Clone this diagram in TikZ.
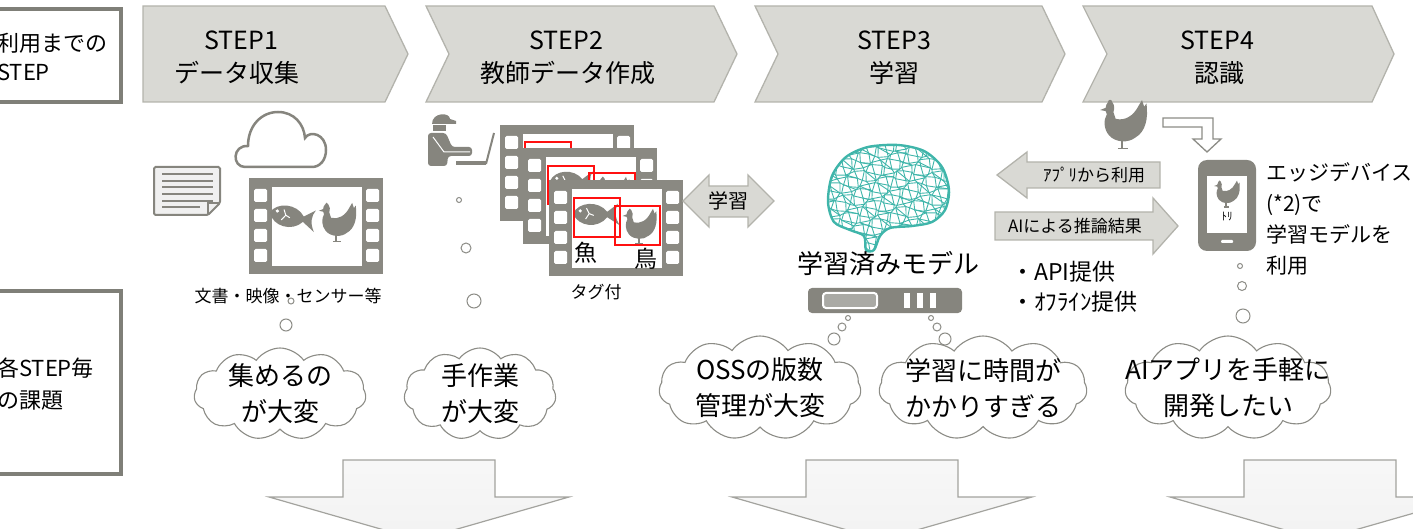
\documentclass[tikz,border=0pt]{standalone}
\usepackage{fontspec}
\setmainfont{Noto Sans CJK JP}
\usetikzlibrary{shapes.symbols}
\definecolor{chevfill}{HTML}{D9D9D4}
\definecolor{chevdraw}{HTML}{B3B3AC}
\definecolor{boxdraw}{HTML}{7F7F78}
\definecolor{icongray}{HTML}{86857E}
\definecolor{filmgray}{HTML}{8A8982}
\definecolor{neurocol}{HTML}{3FB5AA}
\definecolor{cloudline}{HTML}{8C8C86}
\definecolor{tagred}{HTML}{FF1010}
\newcommand\txtsz[2]{\fontsize{#1}{#2}\selectfont}
\tikzset{
  chev/.style={fill=chevfill,draw=chevdraw,line width=1.3pt},
  leftbox/.style={draw=boxdraw,line width=4pt,fill=white},
  steptxt/.style={inner sep=0pt,font=\txtsz{25pt}{30pt}},
  bubble/.style={draw=cloudline,fill=white,line width=1pt},
  thought/.style={cloud,cloud puffs=11,cloud puff arc=110,cloud ignores aspect,
    draw=cloudline,fill=white,line width=1.1pt,inner sep=0pt},
  thoughttxt/.style={align=center,inner sep=0pt,font=\txtsz{26pt}{36pt}},
  blockarrow/.style={fill=chevfill,draw=chevdraw,line width=1.3pt},
  downarrow/.style={draw=cloudline!80,line width=1.2pt,top color=black!3,
    middle color=black!18,bottom color=black!5},
  neuro/.style={neurocol,line width=0.9pt,line cap=round},
  redtag/.style={draw=tagred,line width=1.3pt},
  pics/film/.style={code={
    \fill[filmgray] (0,0) rectangle (134,96);
    \fill[white] (23,9) rectangle (113,88);
    \foreach \yy in {11,31,51,71}{
      \fill[white,rounded corners=1.5pt] (5,\yy) rectangle (18,\yy+13);
      \fill[white,rounded corners=1.5pt] (117,\yy) rectangle (130,\yy+13);
    }
  }},
  pics/hen/.style={code={
    \fill[icongray] (9,3) .. controls (9,0) and (13,0) .. (13,3)
      .. controls (15,5) and (15,9) .. (14,12)
      -- (16,18) .. controls (24,20) and (32,16) .. (37,6)
      -- (40,1) -- (42,7) -- (44,4) .. controls (46,18) and (43,30) .. (34,35)
      .. controls (28,40) and (16,40) .. (10,33)
      .. controls (5,27) and (5,19) .. (8,14)
      -- (7,11) -- (2,10) -- (7,8) .. controls (7,6) and (8,4) .. (9,3) -- cycle;
    \draw[icongray,line width=2pt] (22,37) -- (22,45);
    \draw[icongray,line width=1.5pt] (18,45) -- (27,45);
  }},
  pics/fish/.style={code={
    \fill[icongray] (0,14) .. controls (6,1) and (28,-1) .. (38,12) -- (50,3)
      .. controls (46,10) and (46,18) .. (52,27) -- (38,18)
      .. controls (28,31) and (6,29) .. (0,14) -- cycle;
    \fill[white] (8,11) circle (2);
    \draw[white,line width=1pt] (15,8) -- (18,14) -- (14,20) (18,14) -- (23,16);
  }}
}
\begin{document}
\begin{tikzpicture}[x=1pt,y=-1pt,
  declare function={jx(\a,\b)=2.4*sin(137.5*\a+71.3*\b);
                     jy(\a,\b)=2.4*cos(53.1*\a+117.7*\b);}]
\useasboundingbox (0,0) rectangle (1413,529);
\clip (0,0) rectangle (1413,529);

% ---------- row headers ----------
\draw[leftbox] (-20,9) rectangle (121,102);
\node[anchor=west,align=left,inner sep=0pt,font=\txtsz{22pt}{29pt}] (hdr1) at (-3,57) {利用までの\\STEP};
\draw[leftbox] (-20,291) rectangle (121,474);
\node[anchor=west,align=left,inner sep=0pt,font=\txtsz{22pt}{32pt}] (hdr2) at (-3,384) {各STEP毎\\の課題};

% ---------- step chevrons ----------
\draw[chev] (143,6) -- (385,6) -- (408,54) -- (385,102) -- (143,102) -- cycle;
\draw[chev] (426,6) -- (714,6) -- (737,54) -- (714,102) -- (426,102) -- (449,54) -- cycle;
\draw[chev] (755,6) -- (1042,6) -- (1065,54) -- (1042,102) -- (755,102) -- (778,54) -- cycle;
\draw[chev] (1083,6) -- (1372,6) -- (1394,54) -- (1372,102) -- (1083,102) -- (1107,54) -- cycle;
\node[steptxt] (s1a) at (241,40) {STEP1};
\node[steptxt] (s1b) at (237,73) {データ収集};
\node[steptxt] (s2a) at (566,40) {STEP2};
\node[steptxt] (s2b) at (568,73) {教師データ作成};
\node[steptxt] (s3a) at (894,40) {STEP3};
\node[steptxt] (s3b) at (894,73) {学習};
\node[steptxt] (s4a) at (1217,40) {STEP4};
\node[steptxt] (s4b) at (1219,73) {認識};

% ---------- STEP1: data sources ----------
\draw[icongray,line width=2.5pt,fill=white] (245,167) .. controls (232,167) and (232,145) .. (248,146)
  .. controls (248,125) and (262,112) .. (278,112) .. controls (294,112) and (304,124) .. (305,138)
  .. controls (310,130) and (326,134) .. (326,150) .. controls (326,160) and (320,167) .. (312,167) -- cycle;
\filldraw[fill=black!6,draw=icongray,line width=2pt,rounded corners=1.5pt]
  (154,167) -- (220,167) -- (220,203) -- (208,215) -- (154,215) -- cycle;
\draw[icongray,line width=1.5pt] (208,215) -- (208,203) -- (220,203);
\foreach \yy in {174,181,187,194,201}{\draw[icongray,line width=1.2pt] (162,\yy) -- (213,\yy);}
\draw[icongray,line width=1.2pt] (162,207) -- (200,207);
\pic at (249,178) {film};
\pic[scale=0.9,rotate=-10] at (272,200) {fish};
\pic[scale=0.88] at (317,202) {hen};
\node[inner sep=0pt,font=\txtsz{17pt}{20pt}] (src) at (288,296) {文書・映像・センサー等};
\draw[bubble] (291,301) circle (3);
\draw[bubble] (286,325) circle (6);

% ---------- STEP2: tagging ----------
\fill[icongray] (432,124) .. controls (432,112) and (450,112) .. (450,119) -- (456,121) -- (456,124) -- cycle;
\fill[icongray] (433,125) rectangle (446,131);
\fill[icongray,rounded corners=3pt] (428,133) -- (446,133) -- (452,147) -- (472,147) -- (472,156)
  -- (448,156) -- (447,166) -- (428,166) -- cycle;
\draw[white,line width=1pt] (433,137) -- (444,152) -- (470,152);
\fill[icongray] (456,161) rectangle (486,165);
\draw[icongray,line width=2pt] (486,164) -- (494,133);
\pic at (500,125) {film};
\pic[scale=0.85] at (527,146) {fish};
\pic[scale=0.8] at (571,152) {hen};
\draw[redtag] (525,142) rectangle (571,180);
\draw[redtag] (566,150) rectangle (611,189);
\pic at (523,148) {film};
\pic[scale=0.85] at (550,169) {fish};
\pic[scale=0.8] at (594,176) {hen};
\draw[redtag] (548,166) rectangle (594,204);
\draw[redtag] (589,173) rectangle (635,212);
\pic at (549,180) {film};
\pic[scale=0.9] at (573,201) {fish};
\pic[scale=0.8] at (621,208) {hen};
\draw[redtag] (574,198) rectangle (620,237);
\draw[redtag] (615,206) rectangle (660,245);
\node[inner sep=0pt,font=\txtsz{23pt}{26pt}] (fishlbl) at (586,253) {魚};
\node[inner sep=0pt,font=\txtsz{23pt}{26pt}] (birdlbl) at (646,259) {鳥};
\node[inner sep=0pt,font=\txtsz{17pt}{20pt}] (tag) at (596,292) {タグ付};
\draw[bubble] (459,200) circle (2.5);
\draw[bubble] (466,248) circle (5);
\draw[bubble] (474,301) circle (7);
\draw[blockarrow] (683,201) -- (709,175) -- (709,186) -- (748,186) -- (748,175) -- (774,201)
  -- (748,227) -- (748,217) -- (709,217) -- (709,227) -- cycle;
\node[inner sep=0pt,font=\txtsz{20pt}{24pt}] (learn) at (728,201) {学習};

% ---------- STEP3: trained model (neural mesh brain) ----------
\begin{scope}
  \clip plot[smooth cycle] coordinates {(828,202) (832,176) (846,157) (868,147) (898,145)
    (924,151) (942,167) (949,190) (945,210) (932,222) (912,226) (890,228) (880,236)
    (874,250) (866,250) (864,236) (850,230) (834,222)};
  \foreach \i in {0,...,21}{
    \foreach \j in {0,...,18}{
      \draw[neuro] ({826+6*\i+jx(\i,\j)},{143+6*\j+jy(\i,\j)})
        -- ({826+6*(\i+1)+jx(\i+1,\j)},{143+6*\j+jy(\i+1,\j)});
      \draw[neuro] ({826+6*\i+jx(\i,\j)},{143+6*\j+jy(\i,\j)})
        -- ({826+6*\i+jx(\i,\j+1)},{143+6*(\j+1)+jy(\i,\j+1)});
    }
  }
  \foreach \i in {0,3,...,21}{
    \foreach \j in {1,3,...,17}{
      \draw[neuro] ({826+6*\i+jx(\i,\j)},{143+6*\j+jy(\i,\j)})
        -- ({826+6*(\i+2)+jx(\i+2,\j+1)},{143+6*(\j+1)+jy(\i+2,\j+1)});
    }
  }
\end{scope}
\draw[neurocol,line width=2.4pt] plot[smooth cycle] coordinates {(828,202) (832,176) (846,157)
  (868,147) (898,145) (924,151) (942,167) (949,190) (945,210) (932,222) (912,226) (890,228)
  (880,236) (874,250) (866,250) (864,236) (850,230) (834,222)};
\node[inner sep=0pt,font=\txtsz{26pt}{30pt}] (model) at (888,264) {学習済みモデル};
\fill[icongray,rounded corners=4pt] (808,288) rectangle (962,313);
\draw[white,line width=2pt,fill=icongray!70!white,rounded corners=3pt] (823,293) rectangle (877,308);
\foreach \xx in {904,917,930}{\fill[white] (\xx,293) rectangle (\xx+6,308);}
\draw[bubble] (848,318) circle (2.5);
\draw[bubble] (842,327) circle (4);
\draw[bubble] (834,339) circle (6);
\draw[bubble] (931,318) circle (2.5);
\draw[bubble] (937,327) circle (4);
\draw[bubble] (945,339) circle (6);

% ---------- model <-> device ----------
\draw[blockarrow] (997,175) -- (1027,152) -- (1027,162) -- (1160,162) -- (1160,188) -- (1027,188)
  -- (1027,198) -- cycle;
\node[inner sep=0pt,font=\txtsz{17pt}{20pt}] (appuse) at (1094,175) {ｱﾌﾟﾘから利用};
\draw[blockarrow] (995,212) -- (1153,212) -- (1153,198) -- (1178,226) -- (1153,254) -- (1153,240)
  -- (995,240) -- cycle;
\node[inner sep=0pt,font=\txtsz{17pt}{20pt}] (infer) at (1075,226) {AIによる推論結果};
\node[anchor=west,inner sep=0pt,font=\txtsz{23pt}{26pt}] (api) at (1011,272) {・API提供};
\node[anchor=west,inner sep=0pt,font=\txtsz{23pt}{26pt}] (offline) at (1011,302) {・ｵﾌﾗｲﾝ提供};

% ---------- STEP4: edge device ----------
\pic[scale=1.1] at (1098,99) {hen};
\draw[cloudline,line width=1.3pt,fill=white] (1163,118) -- (1213,118) -- (1213,139) -- (1221,139)
  -- (1207,152) -- (1193,139) -- (1202,139) -- (1202,127) -- (1163,127) -- cycle;
\fill[icongray,rounded corners=9pt] (1198,160) rectangle (1256,251);
\fill[white] (1207,176) rectangle (1247,233);
\pic[scale=0.6] at (1213,180) {hen};
\node[inner sep=0pt,font=\txtsz{11pt}{13pt}] (tori) at (1227,217) {ﾄﾘ};
\fill[white,rounded corners=1pt] (1221,240) rectangle (1233,243);
\node[anchor=north west,align=left,inner sep=0pt,font=\txtsz{21pt}{31pt}] (edge) at (1266,162)
  {エッジデバイス\\(*2)で\\学習モデルを\\利用};
\draw[bubble] (1240,266) circle (2.5);
\draw[bubble] (1242,286) circle (4.5);
\draw[bubble] (1243,316) circle (7);

% ---------- issues ----------
\node[thought,minimum width=172pt,minimum height=92pt] (c1) at (280,394) {};
\node[thoughttxt] (t1) at (c1) {集めるの\\が大変};
\node[thought,minimum width=152pt,minimum height=92pt] (c2) at (480,394) {};
\node[thoughttxt] (t2) at (c2) {手作業\\が大変};
\node[thought,minimum width=202pt,minimum height=104pt] (c3) at (760,388) {};
\node[thoughttxt] (t3) at (c3) {OSSの版数\\管理が大変};
\node[thought,minimum width=208pt,minimum height=104pt] (c4) at (983,388) {};
\node[thoughttxt] (t4) at (c4) {学習に時間が\\かかりすぎる};
\node[thought,minimum width=206pt,minimum height=104pt] (c5) at (1228,388) {};
\node[thoughttxt] (t5) at (c5) {AIアプリを手軽に\\開発したい};

% ---------- downward arrows ----------
\foreach \cx in {419,882,1320}{
  \draw[downarrow] (\cx-76,460) -- (\cx+76,460) -- (\cx+76,497) -- (\cx+150,497) -- (\cx,540)
    -- (\cx-150,497) -- (\cx-76,497) -- cycle;
}
\end{tikzpicture}
\end{document}
